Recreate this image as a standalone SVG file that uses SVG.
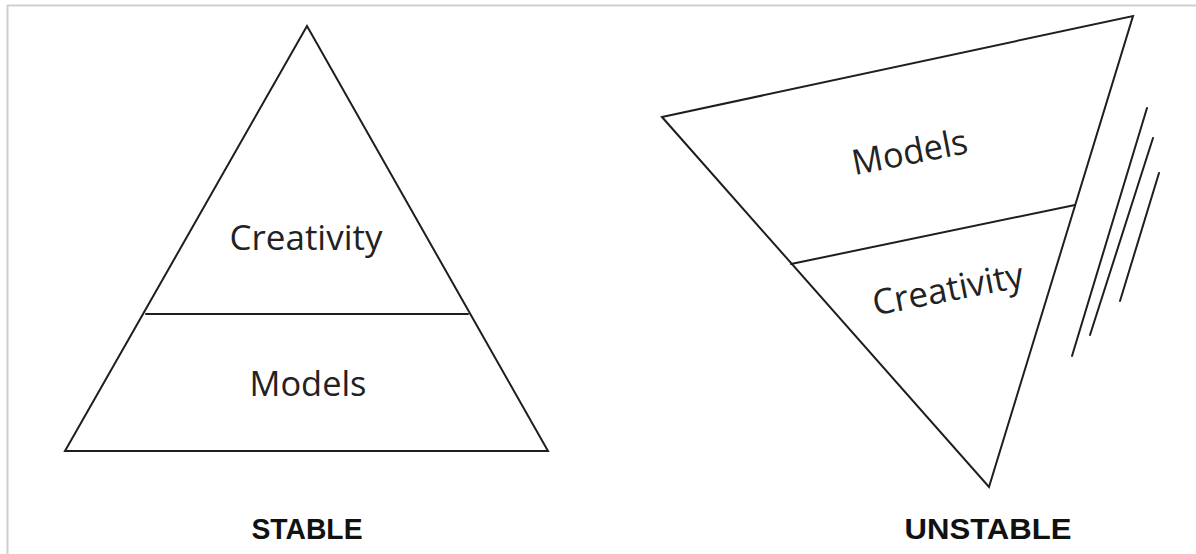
<svg xmlns="http://www.w3.org/2000/svg" width="1196" height="554" viewBox="0 0 1196 554">
<style>
.ln{fill:none;stroke:#1e1e1e;stroke-width:2;stroke-linejoin:miter;stroke-linecap:round}
.lbl{font-family:"Open Sans","Liberation Sans",sans-serif;font-size:35px;fill:#222;text-anchor:middle}
.cap{font-family:"Liberation Sans","Open Sans",sans-serif;font-weight:bold;font-size:30px;fill:#111;text-anchor:middle}
</style>
<rect x="0" y="0" width="1196" height="554" fill="#fff"/>
<g id="frame" fill="none" stroke="#cfcfcf" stroke-width="2">
<line x1="7" y1="5.5" x2="1196" y2="5.5"/>
<line x1="7.5" y1="5" x2="7.5" y2="554"/>
</g>
<g id="stable">
<polygon class="ln" points="307,26 65,451 548,451"/>
<line class="ln" x1="146" y1="314" x2="468" y2="314" stroke-width="3" stroke="#333"/>
<text class="lbl" x="306" y="250" textLength="153" lengthAdjust="spacingAndGlyphs">Creativity</text>
<text class="lbl" x="308" y="396" textLength="117" lengthAdjust="spacingAndGlyphs">Models</text>
<text class="cap" x="307" y="539" textLength="111" lengthAdjust="spacingAndGlyphs">STABLE</text>
</g>
<g id="unstable">
<polygon class="ln" points="662,117 1133,16 989,487"/>
<line class="ln" x1="791" y1="264" x2="1075" y2="205"/>
<text class="lbl" x="912" y="164" transform="rotate(-11 912 164)" textLength="117" lengthAdjust="spacingAndGlyphs">Models</text>
<text class="lbl" x="950" y="301" transform="rotate(-11 950 301)" textLength="153" lengthAdjust="spacingAndGlyphs">Creativity</text>
<text class="cap" x="988" y="539" textLength="167" lengthAdjust="spacingAndGlyphs">UNSTABLE</text>
</g>
<g id="motion-lines">
<line class="ln" x1="1147" y1="108" x2="1072" y2="356"/>
<line class="ln" x1="1153" y1="138" x2="1090" y2="335"/>
<line class="ln" x1="1159" y1="173" x2="1120" y2="301"/>
</g>
</svg>
